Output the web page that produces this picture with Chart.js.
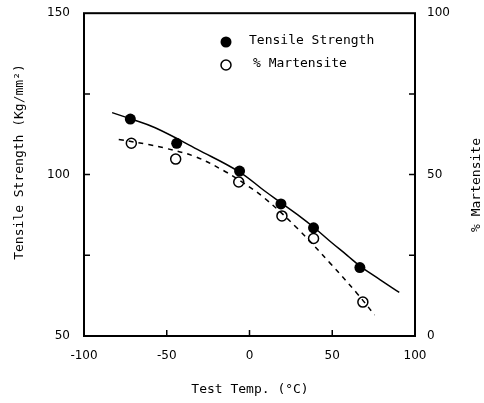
<!DOCTYPE html>
<html><head><meta charset="utf-8">
<script src="https://cdn.jsdelivr.net/npm/chart.js@4/dist/chart.umd.min.js"></script>
<style>html,body{margin:0;padding:0;background:#fff}</style>
</head><body>
<canvas id="c" width="484" height="403" style="width:484px;height:403px"></canvas>
<script>
// Measured points
const strengthTemps = [-72, -44, -6, 19, 38.7, 66.7];
const strengthValues = [117.2, 109.7, 101.1, 90.9, 83.5, 71.2];
const martTemps = [-71.4, -44.6, -6.5, 19.6, 38.7, 68.5];
const martensiteValues = [59.7, 54.8, 47.7, 37.2, 30.2, 10.5];
// Fitted curves
const strengthCurveTemps = [-83, -72, -57, -31.5, -6, 9, 19, 29, 39, 49, 59, 67, 79, 90.5];
const strengthCurveValues = [119.2, 117.3, 114.5, 107.8, 100.8, 95, 91.3, 87.6, 83.6, 79.2, 75, 71.6, 67.4, 63.5];
const martCurveTemps = [-79, -61, -51, -33, -15.5, -4.8, 8.9, 29.2, 48.8, 65, 75.6];
const martCurveValues = [60.9, 59.3, 58.2, 55.6, 51.2, 47.8, 42.8, 33.2, 22.5, 13.2, 6.5];
// Axis ticks
const xTickValues = [-100, -50, 0, 50, 100];
const xInnerTicks = [-50, 0, 50];
const yTickValues = [50, 100, 150];
const yInnerTicks = [75, 100, 125];
const y1TickValues = [0, 50, 100];
const y1InnerTicks = [25, 50, 75];

const pts = (xs, ys) => xs.map((x, i) => ({x, y: ys[i]}));
const monoFont = '"DejaVu Sans Mono", "Liberation Mono", monospace';
const tickFont = {family: '"DejaVu Sans", sans-serif', size: 12};

const decor = {
  id: 'decor',
  afterDraw(chart) {
    const {ctx, chartArea: a, scales} = chart;
    ctx.save();
    ctx.strokeStyle = '#000';
    ctx.lineWidth = 2;
    ctx.strokeRect(a.left, a.top, a.right - a.left, a.bottom - a.top);
    ctx.lineWidth = 1.5;
    ctx.beginPath();
    xInnerTicks.forEach(v => { const p = scales.x.getPixelForValue(v); ctx.moveTo(p, a.bottom); ctx.lineTo(p, a.bottom - 6); });
    yInnerTicks.forEach(v => { const p = scales.y.getPixelForValue(v); ctx.moveTo(a.left, p); ctx.lineTo(a.left + 6, p); });
    y1InnerTicks.forEach(v => { const p = scales.y1.getPixelForValue(v); ctx.moveTo(a.right, p); ctx.lineTo(a.right - 6, p); });
    ctx.stroke();

    ctx.fillStyle = '#000';
    ctx.font = '13px ' + monoFont;
    ctx.textAlign = 'center';
    ctx.textBaseline = 'middle';
    ctx.fillText('Test Temp. (°C)', 250, 390);
    ctx.save(); ctx.translate(20, 162); ctx.rotate(-Math.PI / 2);
    ctx.fillText('Tensile Strength (Kg/mm²)', 0, 0); ctx.restore();
    ctx.save(); ctx.translate(477, 185); ctx.rotate(-Math.PI / 2);
    ctx.fillText('% Martensite', 0, 0); ctx.restore();

    // legend
    ctx.textAlign = 'left';
    ctx.beginPath(); ctx.arc(226, 42, 5.5, 0, Math.PI * 2); ctx.fill();
    ctx.fillText('Tensile Strength', 249, 41);
    ctx.beginPath(); ctx.arc(226, 65, 5, 0, Math.PI * 2); ctx.lineWidth = 1.5; ctx.stroke();
    ctx.fillText('% Martensite', 253, 64);
    ctx.restore();
  }
};

new Chart(document.getElementById('c'), {
  data: {
    datasets: [
      {type: 'line', data: pts(strengthCurveTemps, strengthCurveValues), yAxisID: 'y',
       borderColor: '#000', borderWidth: 1.5, pointRadius: 0, tension: 0.4, fill: false},
      {type: 'line', data: pts(martCurveTemps, martCurveValues), yAxisID: 'y1',
       borderColor: '#000', borderWidth: 1.5, borderDash: [5, 5], pointRadius: 0, tension: 0.4, fill: false},
      {type: 'scatter', data: pts(strengthTemps, strengthValues), yAxisID: 'y',
       pointRadius: 5.5, backgroundColor: '#000', borderColor: '#000', borderWidth: 0},
      {type: 'scatter', data: pts(martTemps, martensiteValues), yAxisID: 'y1',
       pointRadius: 5, backgroundColor: '#fff', borderColor: '#000', borderWidth: 1.5}
    ]
  },
  options: {
    responsive: false, animation: false, devicePixelRatio: 1,
    layout: {padding: {top: 11, left: 0, right: 0, bottom: 0}},
    plugins: {legend: {display: false}, tooltip: {enabled: false}},
    scales: {
      x: {type: 'linear', min: -100, max: 100,
          afterBuildTicks: s => { s.ticks = xTickValues.map(v => ({value: v})); },
          afterFit: s => { s.height = 67; },
          grid: {display: false}, border: {display: false},
          ticks: {font: tickFont, color: '#000', padding: 5, maxRotation: 0}},
      y: {type: 'linear', position: 'left', min: 50, max: 150,
          afterBuildTicks: s => { s.ticks = yTickValues.map(v => ({value: v})); },
          afterFit: s => { s.width = 84; },
          grid: {display: false}, border: {display: false},
          ticks: {font: tickFont, color: '#000', padding: 6}},
      y1: {type: 'linear', position: 'right', min: 0, max: 100,
          afterBuildTicks: s => { s.ticks = y1TickValues.map(v => ({value: v})); },
          afterFit: s => { s.width = 69; },
          grid: {display: false}, border: {display: false},
          ticks: {font: tickFont, color: '#000', padding: 4}}
    }
  },
  plugins: [decor]
});
</script>
</body></html>
